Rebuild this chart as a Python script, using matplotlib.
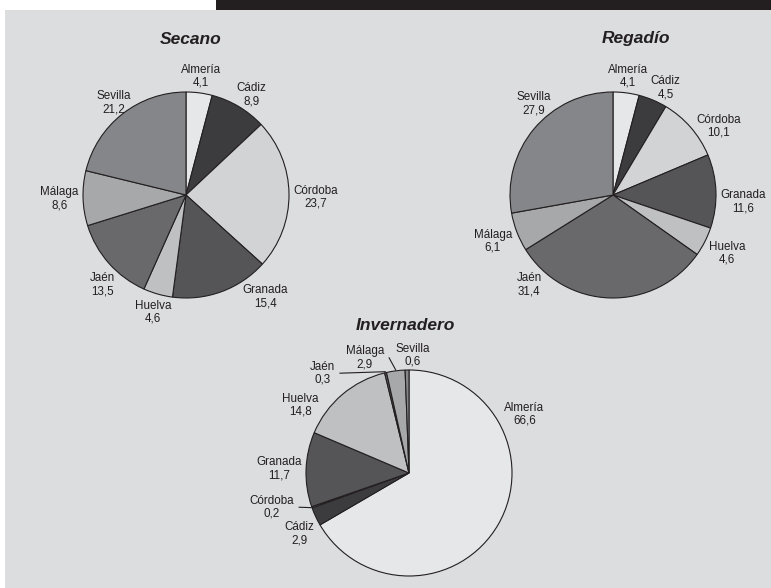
import numpy as np
import matplotlib
matplotlib.use("Agg")
import matplotlib.pyplot as plt
from matplotlib.patches import Rectangle

provincias = ["Almería", "Cádiz", "Córdoba", "Granada", "Huelva", "Jaén", "Málaga", "Sevilla"]
secano = [4.1, 8.9, 23.7, 15.4, 4.6, 13.5, 8.6, 21.2]
regadio = [4.1, 4.5, 10.1, 11.6, 4.6, 31.4, 6.1, 27.9]
invernadero = [66.6, 2.9, 0.2, 11.7, 14.8, 0.3, 2.9, 0.6]

colores = ["#e6e7e9", "#3c3c3e", "#d2d3d5", "#555557", "#bfc0c2", "#69696c", "#a7a8aa", "#858689"]
INK = "#231f20"
BG = "#dcdddf"

W, H = 771, 588
R = 103  # radio de cada tarta en píxeles

plt.rcParams["font.family"] = ["Liberation Sans", "DejaVu Sans"]

fig = plt.figure(figsize=(W / 100, H / 100), dpi=100)
fig.patch.set_facecolor("white")
fig.add_artist(Rectangle((5 / W, 0), 1 - 5 / W, 1 - 10 / H, transform=fig.transFigure,
                         facecolor=BG, edgecolor="none", zorder=0))
fig.add_artist(Rectangle((216 / W, 1 - 10 / H), 1 - 216 / W, 10 / H, transform=fig.transFigure,
                         facecolor=INK, edgecolor="none", zorder=0))


def fmt(v):
    return f"{v:.1f}".replace(".", ",")


def draw_pie(cx, cy, values, title, title_xy, lab_ang=None, lab_pad=None, leaders=()):
    lab_ang = lab_ang or {}
    lab_pad = lab_pad or {}
    ax = fig.add_axes([(cx - R) / W, 1 - (cy + R) / H, 2 * R / W, 2 * R / H])
    wedges, _ = ax.pie(values, colors=colores, startangle=90, counterclock=False, radius=1,
                       wedgeprops=dict(edgecolor=INK, linewidth=0.8))
    ax.set_xlim(-1, 1)
    ax.set_ylim(-1, 1)
    ax.axis("off")
    renderer = fig.canvas.get_renderer()
    for w, name, v in zip(wedges, provincias, values):
        mid = np.deg2rad((w.theta1 + w.theta2) / 2)
        ang = np.deg2rad(lab_ang.get(name, np.rad2deg(mid)))
        t = ax.text(0, 0, f"{name}\n{fmt(v)}", ha="center", va="center", fontsize=8.4,
                    linespacing=1.12, color=INK)
        bb = t.get_window_extent(renderer)
        hw, hh = bb.width / 2 / R, bb.height / 2 / R
        c, s = np.cos(ang), np.sin(ang)
        d = 1.04 + lab_pad.get(name, 0) + hw * abs(c) + 0.8 * hh * abs(s)
        lx, ly = d * c, d * s
        t.set_position((lx, ly))
        if name in leaders:
            px, py = 1.01 * np.cos(mid), 1.01 * np.sin(mid)
            side = np.sign(px - lx)
            ax.plot([lx + side * (hw + 0.05), px], [ly, py], color=INK, lw=0.8, clip_on=False)
    fig.text(title_xy[0] / W, 1 - title_xy[1] / H, title, ha="center", va="center",
             fontsize=12.5, fontweight="bold", fontstyle="italic", color=INK)


draw_pie(186, 195, secano, "Secano", (191, 39),
         lab_ang={"Cádiz": 57, "Córdoba": -1, "Granada": -52, "Jaén": -133},
         lab_pad={"Sevilla": -0.08, "Cádiz": -0.04})
draw_pie(613, 195, regadio, "Regadío", (636, 39),
         lab_ang={"Cádiz": 64, "Córdoba": 33, "Granada": -3, "Jaén": -133, "Sevilla": 131},
         lab_pad={"Sevilla": -0.05, "Cádiz": -0.03, "Córdoba": -0.05})
draw_pie(409, 473, invernadero, "Invernadero", (405, 326),
         lab_ang={"Almería": 27, "Huelva": 148, "Jaén": 131, "Málaga": 111,
                  "Sevilla": 88, "Córdoba": -166, "Cádiz": -151},
         lab_pad={"Córdoba": 0.1, "Jaén": 0.09},
         leaders=("Córdoba", "Jaén", "Málaga"))

fig.savefig("out.png", dpi=100)
